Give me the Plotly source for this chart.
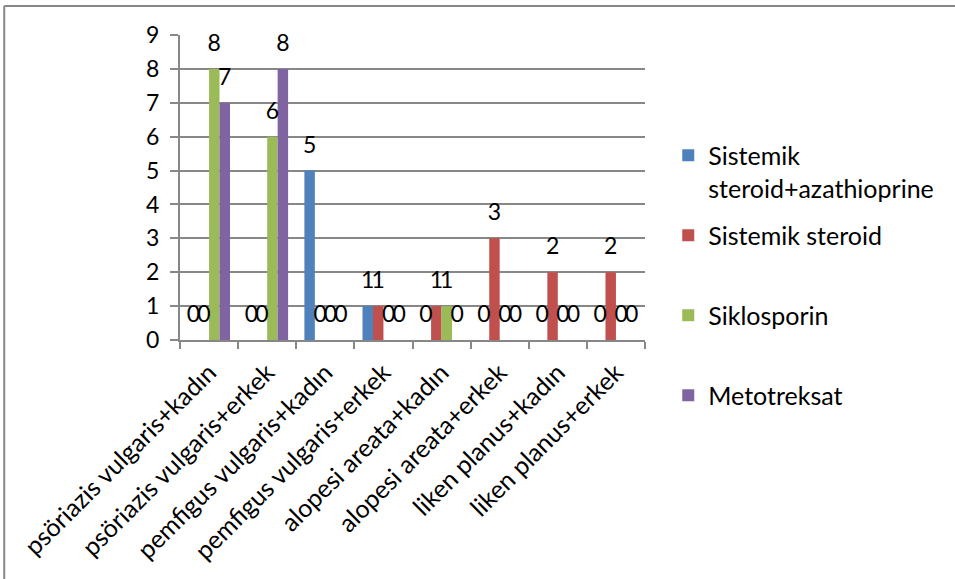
import plotly.graph_objects as go

# Diagnosis + sex groups on the category axis
categories = [
    "psöriazis vulgaris+kadın",
    "psöriazis vulgaris+erkek",
    "pemfigus vulgaris+kadın",
    "pemfigus vulgaris+erkek",
    "alopesi areata+kadın",
    "alopesi areata+erkek",
    "liken planus+kadın",
    "liken planus+erkek",
]

# Patient counts per treatment
steroid_azathioprine = [0, 0, 5, 1, 0, 0, 0, 0]
steroid = [0, 0, 0, 1, 1, 3, 2, 2]
siklosporin = [8, 6, 0, 0, 1, 0, 0, 0]
metotreksat = [7, 8, 0, 0, 0, 0, 0, 0]

series_names = [
    "Sistemik<br>steroid+azathioprine",
    "Sistemik steroid<br>\u00a0",
    "Siklosporin<br>\u00a0",
    "Metotreksat",
]
series_values = [steroid_azathioprine, steroid, siklosporin, metotreksat]
series_colors = ["#4F81BD", "#C0504D", "#9BBB59", "#8064A2"]

FONT = "Lato"
FS_TEXT = 25   # words: category labels, legend
FS_NUM = 23    # digits: axis ticks, value labels
GRID = "#878787"
GAP = 0.28

fig = go.Figure()
for i, (name, vals, col) in enumerate(zip(series_names, series_values, series_colors)):
    fig.add_trace(go.Bar(
        x=categories,
        y=vals,
        name=name,
        legendgroup=f"g{i}",
        offsetgroup=str(i),
        marker=dict(color=col, line=dict(width=0)),
    ))

# Value labels: text points grouped the same way as the bars,
# lifted above each bar top by an invisible marker
for i, vals in enumerate(series_values):
    fig.add_trace(go.Scatter(
        x=categories,
        y=vals,
        mode="markers+text",
        orientation="v",
        offsetgroup=str(i),
        text=[str(v) for v in vals],
        textposition="top center",
        textfont=dict(family=FONT, size=FS_NUM, color="black"),
        marker=dict(size=18, opacity=0, color="white"),
        cliponaxis=False,
        showlegend=False,
        hoverinfo="skip",
    ))

fig.update_layout(
    width=955,
    height=579,
    margin=dict(l=180, r=310, t=35, b=239),
    paper_bgcolor="white",
    plot_bgcolor="white",
    barmode="group",
    bargap=GAP,
    bargroupgap=0,
    scattermode="group",
    scattergap=GAP,
    font=dict(family=FONT, size=FS_TEXT, color="black"),
    showlegend=True,
    legend=dict(
        x=1.05, xanchor="left",
        y=0.68, yanchor="top",
        traceorder="grouped",
        tracegroupgap=12,
        valign="top",
        maxheight=579,
        font=dict(family=FONT, size=FS_TEXT, color="black"),
        bgcolor="rgba(0,0,0,0)",
    ),
    xaxis=dict(
        type="category",
        tickangle=-45,
        ticks="outside",
        tickson="boundaries",
        ticklen=7,
        tickwidth=2,
        tickcolor=GRID,
        showline=True,
        linecolor=GRID,
        linewidth=2,
        showgrid=False,
        tickfont=dict(family=FONT, size=FS_TEXT, color="black"),
        ticklabelstandoff=6,
    ),
    yaxis=dict(
        range=[0, 9],
        dtick=1,
        ticks="outside",
        ticklen=8,
        tickwidth=2,
        tickcolor=GRID,
        showline=True,
        linecolor=GRID,
        linewidth=2,
        showgrid=True,
        gridcolor=GRID,
        gridwidth=2,
        zeroline=False,
        tickfont=dict(family=FONT, size=FS_NUM, color="black"),
        ticklabelstandoff=6,
    ),
)

# Frame around the chart area (top and left edges visible)
fig.add_shape(type="line", xref="paper", yref="paper",
              x0=-0.378, x1=1.7, y0=1.095, y1=1.095,
              line=dict(color=GRID, width=2))
fig.add_shape(type="line", xref="paper", yref="paper",
              x0=-0.378, x1=-0.378, y0=1.095, y1=-0.85,
              line=dict(color=GRID, width=2))

fig.write_html("out.html")
